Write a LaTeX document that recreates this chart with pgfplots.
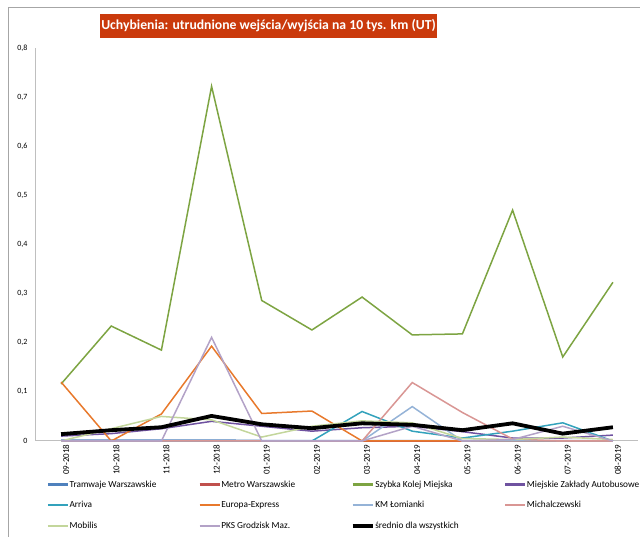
\documentclass[border=0pt]{standalone}
\usepackage{pgfplots}
\pgfplotsset{compat=1.18}
\usepackage{pgfplotstable}
\usepackage{fontspec}
\setmainfont{Carlito}
\definecolor{cTW}{HTML}{4F81BD}
\definecolor{cMW}{HTML}{C0504D}
\definecolor{cSKM}{HTML}{7DA442}
\definecolor{cMZA}{HTML}{6F52A0}
\definecolor{cAR}{HTML}{33A2BC}
\definecolor{cEE}{HTML}{E8792C}
\definecolor{cKM}{HTML}{95B3D7}
\definecolor{cMI}{HTML}{D99694}
\definecolor{cMO}{HTML}{C3D69B}
\definecolor{cPKS}{HTML}{B3A2C7}
\definecolor{titlered}{HTML}{CA3A0C}

\pgfplotstableread{
x  TW    MW  SKM   MZA   AR    EE    KM    MI    MO    PKS   AVG
0  0.002 0   0.116 0.010 0     0.120 0     0     0     0     0.014
1  0.002 0   0.234 0.015 0     0     0     0     0.025 0     0.022
2  0.002 0   0.185 0.025 0     0.055 0     0     0.050 0     0.028
3  0.002 0   0.722 0.040 0     0.193 0     0     0.043 0.211 0.051
4  0.001 0   0.286 0.030 0     0.056 0     0     0.008 0     0.034
5  0.001 0   0.226 0.020 0     0.061 0     0     0.030 0     0.026
6  0.001 0   0.293 0.027 0.060 0     0     0     0.041 0     0.036
7  0.001 0   0.216 0.030 0.020 0     0.070 0.119 0.037 0.030 0.033
8  0.001 0   0.218 0.019 0.006 0     0     0.058 0.005 0     0.022
9  0.001 0   0.470 0.006 0.020 0     0     0.004 0.003 0.003 0.036
10 0.001 0   0.171 0.006 0.037 0     0     0     0.008 0.030 0.015
11 0.001 0   0.323 0.012 0     0     0     0     0.003 0     0.028
}\data

\begin{document}
\begin{tikzpicture}[x=1pt,y=1pt]
\path[use as bounding box] (0,0) rectangle (640,537);
\draw[black!35, line width=0.8pt] (8.5,0) -- (8.5,529.5) -- (640,529.5);
\node[fill=titlered, text=white, font=\bfseries\fontsize{13.7}{15}\selectfont,
      minimum width=337pt, minimum height=24pt, inner sep=0pt] at (268.5,511)
      {Uchybienia: utrudnione wejścia/wyjścia na 10 tys. km (UT)};
\begin{axis}[
  at={(36pt,96pt)}, anchor=south west,
  scale only axis, width=602pt, height=393pt,
  xmin=-0.5, xmax=11.5, ymin=0, ymax=0.8,
  clip=false,
  axis x line*=bottom, axis y line*=left,
  axis line style={draw=black!25, line width=1pt, -},
  tick style={draw=none},
  ytick={0,0.1,...,0.8},
  yticklabel style={font=\fontsize{8}{9}\selectfont, /pgf/number format/use comma,
     /pgf/number format/fixed, /pgf/number format/assume math mode=true, xshift=-5pt},
  xtick={0,...,11},
  xticklabels={09-2018,10-2018,11-2018,12-2018,01-2019,02-2019,03-2019,04-2019,05-2019,06-2019,07-2019,08-2019},
  xticklabel style={font=\fontsize{9}{10}\selectfont, rotate=90, anchor=east, yshift=-5pt},
  legend columns=4,
  legend cell align=left,
  legend style={at={(0.0177,-0.099)}, anchor=north west, draw=none, fill=none,
     inner sep=0pt, font=\fontsize{9.3}{11}\selectfont, row sep=11.8pt,
     nodes={inner sep=0.5pt}},
  legend image code/.code={\draw[#1, line width=2.2pt] (0pt,0pt) -- (20pt,0pt);},
]
\addplot[cTW, line width=1.5pt] table[x=x,y=TW]{\data};
\addlegendentry{\makebox[128.5pt][l]{Tramwaje Warszawskie}}
\addplot[cMW, line width=1.5pt] table[x=x,y=MW]{\data};
\addlegendentry{\makebox[128.5pt][l]{Metro Warszawskie}}
\addplot[cSKM, line width=1.5pt] table[x=x,y=SKM]{\data};
\addlegendentry{\makebox[128.5pt][l]{Szybka Kolej Miejska}}
\addplot[cMZA, line width=1.5pt] table[x=x,y=MZA]{\data};
\addlegendentry{Miejskie Zakłady Autobusowe}
\addplot[cAR, line width=1.5pt] table[x=x,y=AR]{\data};
\addlegendentry{\makebox[128.5pt][l]{Arriva}}
\addplot[cEE, line width=1.5pt] table[x=x,y=EE]{\data};
\addlegendentry{\makebox[128.5pt][l]{Europa-Express}}
\addplot[cKM, line width=1.5pt] table[x=x,y=KM]{\data};
\addlegendentry{\makebox[128.5pt][l]{KM Łomianki}}
\addplot[cMI, line width=1.5pt] table[x=x,y=MI]{\data};
\addlegendentry{Michalczewski}
\addplot[cMO, line width=1.5pt] table[x=x,y=MO]{\data};
\addlegendentry{\makebox[128.5pt][l]{Mobilis}}
\addplot[cPKS, line width=1.5pt] table[x=x,y=PKS]{\data};
\addlegendentry{\makebox[128.5pt][l]{PKS Grodzisk Maz.}}
\addplot[black, line width=3.8pt,
  legend image code/.code={\draw[black, line width=4.5pt] (0pt,0pt) -- (20pt,0pt);}]
  table[x=x,y=AVG]{\data};
\addlegendentry{\makebox[128.5pt][l]{średnio dla wszystkich}}
\end{axis}
\end{tikzpicture}
\end{document}
